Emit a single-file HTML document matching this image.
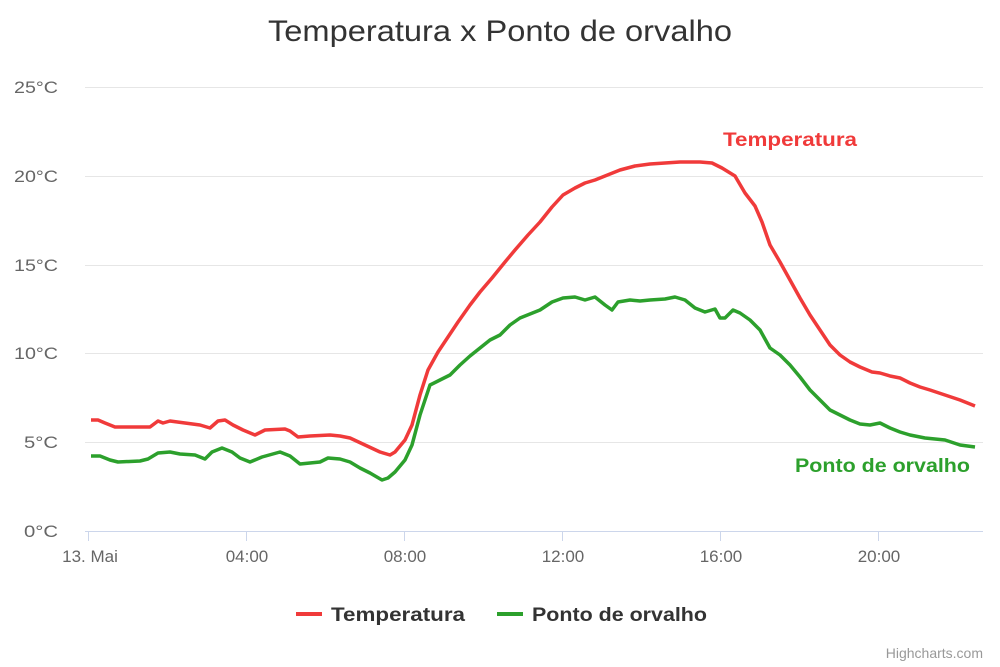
<!DOCTYPE html>
<html><head><meta charset="utf-8"><style>
body{margin:0;background:#fff;}
svg{display:block;font-family:"Liberation Sans",sans-serif;}
</style></head><body>
<svg width="1000" height="667" viewBox="0 0 1000 667">
<rect width="1000" height="667" fill="#fff"/>
<text x="268" y="41" font-size="30" fill="#333" textLength="464" lengthAdjust="spacingAndGlyphs">Temperatura x Ponto de orvalho</text>
<g stroke="#e6e6e6" stroke-width="1">
<line x1="85" x2="983" y1="87.5" y2="87.5"/>
<line x1="85" x2="983" y1="176.5" y2="176.5"/>
<line x1="85" x2="983" y1="265.5" y2="265.5"/>
<line x1="85" x2="983" y1="353.5" y2="353.5"/>
<line x1="85" x2="983" y1="442.5" y2="442.5"/>
</g>
<line x1="85" x2="983" y1="531.5" y2="531.5" stroke="#ccd6eb"/>
<g stroke="#ccd6eb">
<line x1="88.5" x2="88.5" y1="531" y2="541"/>
<line x1="246.5" x2="246.5" y1="531" y2="541"/>
<line x1="404.5" x2="404.5" y1="531" y2="541"/>
<line x1="562.5" x2="562.5" y1="531" y2="541"/>
<line x1="720.5" x2="720.5" y1="531" y2="541"/>
<line x1="878.5" x2="878.5" y1="531" y2="541"/>
</g>
<g font-size="17" fill="#666" text-anchor="end">
<text x="58" y="93" textLength="44" lengthAdjust="spacingAndGlyphs">25°C</text>
<text x="58" y="182" textLength="44" lengthAdjust="spacingAndGlyphs">20°C</text>
<text x="58" y="271" textLength="44" lengthAdjust="spacingAndGlyphs">15°C</text>
<text x="58" y="359" textLength="44" lengthAdjust="spacingAndGlyphs">10°C</text>
<text x="58" y="448" textLength="34" lengthAdjust="spacingAndGlyphs">5°C</text>
<text x="58" y="537" textLength="34" lengthAdjust="spacingAndGlyphs">0°C</text>
</g>
<g font-size="17" fill="#666" text-anchor="middle">
<text x="90" y="562">13. Mai</text>
<text x="247" y="562">04:00</text>
<text x="405" y="562">08:00</text>
<text x="563" y="562">12:00</text>
<text x="721" y="562">16:00</text>
<text x="879" y="562">20:00</text>
</g>
<polyline fill="none" stroke="#f03a3a" stroke-width="3.5" stroke-linejoin="round" points="91,420 98,420 105,423 115,427 150,427 158,421 163,423 170,421 185,423 200,425 210,428 218,421 225,420 233,425 243,430 255,435 265,430 285,429 290,431 298,437 310,436 330,435 340,436 350,438 365,445 380,452 390,455 395,452 405,440 412,425 420,395 428,370 438,352 448,337 458,322 470,305 480,292 492,278 505,262 515,250 528,235 540,222 552,207 563,195 575,188 585,183 595,180 605,176 620,170 635,166 650,164 665,163 680,162 700,162 712,163 722,168 735,176 745,193 755,206 762,222 770,245 780,262 790,280 800,298 810,315 820,330 830,345 840,355 850,362 860,367 872,372 880,373 890,376 900,378 910,383 920,387 930,390 945,395 960,400 975,406"/>
<polyline fill="none" stroke="#2ca02c" stroke-width="3.5" stroke-linejoin="round" points="91,456 100,456 110,460 118,462 140,461 148,459 158,453 170,452 180,454 195,455 205,459 212,452 222,448 232,452 240,458 250,462 262,457 280,452 290,456 300,464 310,463 320,462 328,458 340,459 350,462 360,468 370,473 382,480 388,478 395,472 405,460 412,445 420,415 430,385 440,380 450,375 460,365 470,356 480,348 490,340 500,335 510,325 520,318 530,314 540,310 552,302 563,298 575,297 585,300 595,297 605,305 612,310 618,302 630,300 640,301 650,300 665,299 675,297 685,300 695,308 705,312 715,309 720,318 725,318 733,310 740,313 750,320 760,330 770,348 780,355 790,365 800,377 810,390 820,400 830,410 840,415 850,420 860,424 870,425 880,423 890,428 900,432 910,435 925,438 945,440 960,445 975,447"/>
<text x="723" y="146" font-size="19" font-weight="bold" fill="#f03a3a" textLength="134" lengthAdjust="spacingAndGlyphs">Temperatura</text>
<text x="795" y="472" font-size="19" font-weight="bold" fill="#2ca02c" textLength="175" lengthAdjust="spacingAndGlyphs">Ponto de orvalho</text>
<line x1="296" x2="322" y1="614" y2="614" stroke="#f03a3a" stroke-width="4"/>
<text x="331" y="621" font-size="19" font-weight="bold" fill="#333" textLength="134" lengthAdjust="spacingAndGlyphs">Temperatura</text>
<line x1="497" x2="523" y1="614" y2="614" stroke="#2ca02c" stroke-width="4"/>
<text x="532" y="621" font-size="19" font-weight="bold" fill="#333" textLength="175" lengthAdjust="spacingAndGlyphs">Ponto de orvalho</text>
<text x="983" y="658" text-anchor="end" font-size="14" fill="#999">Highcharts.com</text>
</svg>
</body></html>
